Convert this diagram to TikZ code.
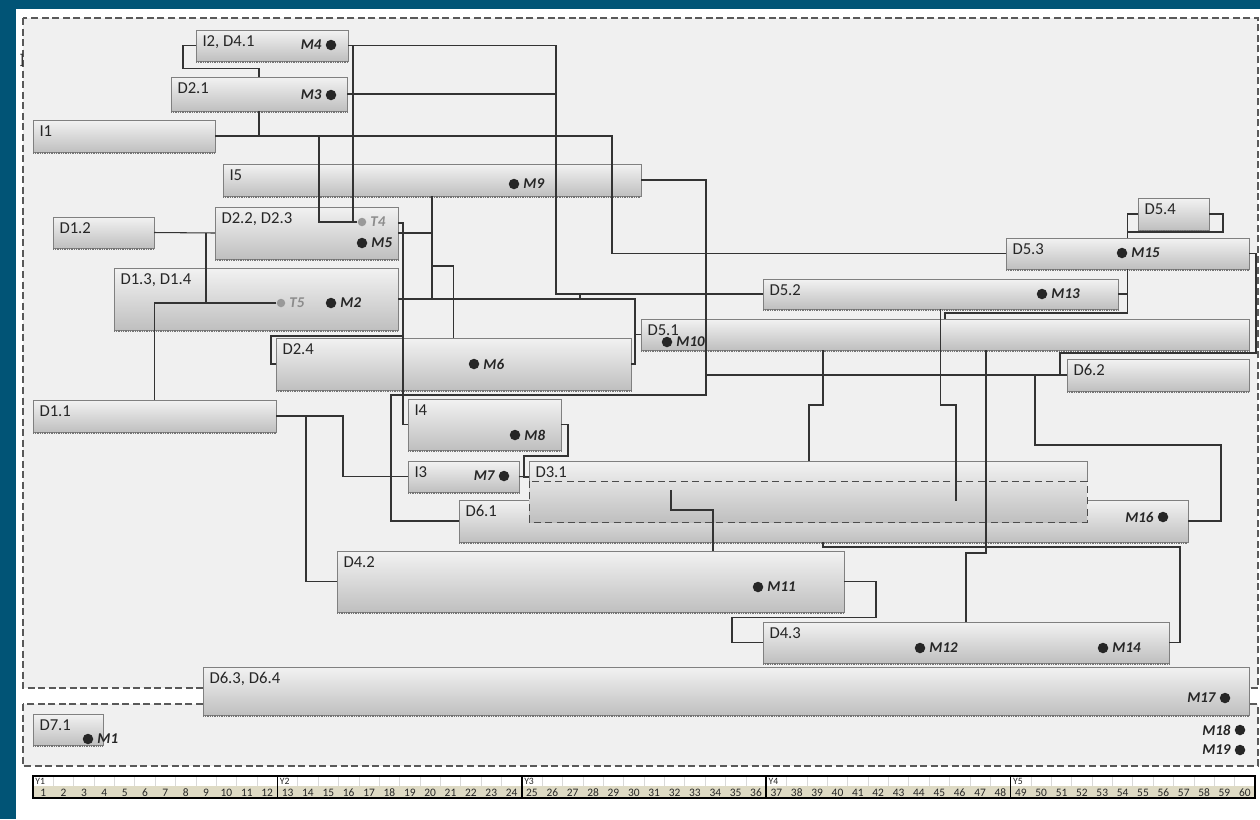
\documentclass[tikz,border=0pt]{standalone}
\usepackage{fontspec}
\setmainfont{Carlito}
\usetikzlibrary{calc}
\definecolor{frameblue}{RGB}{1,84,118}
\definecolor{panelgray}{RGB}{240,240,240}
\definecolor{monthbeige}{RGB}{222,218,196}
\newcommand{\pxu}{0.02cm}
% bar: name, x, y (top left), width, height, label
\newcommand{\wpbar}[6]{%
  \node[wp, minimum width=#4*\pxu, minimum height=#5*\pxu, label={[wplabel]north west:{#6}}] (#1) at (#2,#3) {};
  \draw[hatch] ([yshift=-0.8pt]#1.south west) -- ([yshift=-0.8pt]#1.south east);}
% milestone: [style] name, position, label side, label
\newcommand{\mstone}[5][ms]{\node[#1, label={[mslabel]#4:{#5}}] (#2) at (#3) {};}

\begin{document}
\begin{tikzpicture}[x=0.02cm, y=-0.02cm,
  wp/.style={draw=black!50, top color=black!5, bottom color=black!25, anchor=north west, inner sep=0pt, outer sep=0pt},
  wplabel/.style={anchor=north west, xshift=3.5pt, yshift=-3pt, inner sep=0pt, font=\fontsize{9.5}{11}\selectfont, text=black!85},
  hatch/.style={draw=black!55, line width=1.2pt, dash pattern=on 0.5pt off 0.5pt},
  barline/.style={draw=black!50},
  ms/.style={circle, fill=black!85, minimum size=0.21cm, inner sep=0pt},
  tp/.style={ms, fill=black!40, minimum size=0.17cm},
  mslabel/.style={font=\fontsize{8.5}{9}\selectfont\bfseries\itshape, text=black!85, inner sep=2pt},
  link/.style={draw=black!80, line width=0.6pt},
  panel/.style={draw=black!65, fill=panelgray, dash pattern=on 4pt off 2pt, line width=0.6pt},
  cellline/.style={draw=black!15, line width=0.4pt},
  yearline/.style={draw=black, line width=0.9pt},
  monthnum/.style={font=\fontsize{6.5}{7}\selectfont, inner sep=0pt, text=black!85},
  yearlbl/.style={anchor=north west, font=\fontsize{5.5}{6}\selectfont, inner sep=1.2pt, text=black!85}]
  \useasboundingbox (0,0) rectangle (1260,819);
  \fill[white] (0,0) rectangle (1260,819);
  \fill[frameblue] (0,0) rectangle (1260,9);
  \fill[frameblue] (0,0) rectangle (16,819);
  \draw[panel] (23,18) rectangle (1258,688);
  \draw[panel] (23,704) rectangle (1258,766);
  \node[inner sep=0pt, font=\fontsize{8}{9}\selectfont\bfseries, text=black!80] (brk) at (22,60) {]};

  % work package bars
  \wpbar{i2}{196}{30}{152}{31}{I2, D4.1}
  \wpbar{d21}{171}{77}{176}{34}{D2.1}
  \wpbar{i1}{33}{120}{182}{32}{I1}
  \wpbar{i5}{223}{164}{418}{32}{I5}
  \wpbar{d22}{215}{207}{183}{52}{D2.2, D2.3}
  \wpbar{d12}{53}{217}{101}{31}{D1.2}
  \wpbar{d13}{114}{268}{284}{62}{D1.3, D1.4}
  \wpbar{d24}{276}{338}{355}{52}{D2.4}
  \wpbar{d11}{33}{400}{243}{32}{D1.1}
  \wpbar{i4}{408}{399}{153}{51}{I4}
  \wpbar{i3}{408}{461}{111}{31}{I3}
  \wpbar{d61}{459}{500}{729}{42}{D6.1}
  \node[wp, draw=none, minimum width=558*\pxu, minimum height=61*\pxu, label={[wplabel]north west:{D3.1}}] (d31) at (529,461) {};
  \draw[barline] ($(d31.north west)+(0,20)$) |- (d31.north east) -- ++(0,20);
  \draw[barline, draw=black!70, dash pattern=on 4pt off 2.5pt] ($(d31.north west)+(0,20)$) rectangle (d31.south east);
  \wpbar{d42}{337}{551}{507}{61}{D4.2}
  \wpbar{d43}{763}{622}{406}{41}{D4.3}
  \wpbar{d63}{203}{667}{1046}{48}{D6.3, D6.4}
  \wpbar{d54}{1138}{198}{71}{32}{D5.4}
  \wpbar{d53}{1006}{238}{243}{31}{D5.3}
  \wpbar{d52}{763}{279}{355}{30}{D5.2}
  \wpbar{d51}{641}{319}{608}{31}{D5.1}
  \wpbar{d62}{1067}{359}{182}{32}{D6.2}
  \wpbar{d71}{33}{714}{70}{31}{D7.1}

  % milestones
  \mstone{m4}{331,45}{left}{M4}
  \mstone{m3}{331,95}{left}{M3}
  \mstone{m9}{514,184}{right}{M9}
  \mstone[tp]{t4}{362,222}{right}{\textcolor{black!45}{T4}}
  \mstone{m5}{362,243}{right}{M5}
  \mstone[tp]{t5}{281,303}{right}{\textcolor{black!45}{T5}}
  \mstone{m2}{331,303}{right}{M2}
  \mstone{m6}{474,364}{right}{M6}
  \mstone{m10}{667,342}{right}{M10}
  \mstone{m8}{515,435}{right}{M8}
  \mstone{m7}{504,476}{left}{M7}
  \mstone{m11}{758,587}{right}{M11}
  \mstone{m12}{920,648}{right}{M12}
  \mstone{m14}{1103,648}{right}{M14}
  \mstone{m13}{1042,294}{right}{M13}
  \mstone{m15}{1122,253}{right}{M15}
  \mstone{m16}{1163,517}{left}{M16}
  \mstone{m17}{1225,698}{left}{M17}
  \mstone{m18}{1240,730}{left}{M18}
  \mstone{m19}{1240,750}{left}{M19}
  \mstone{m1}{88,739}{right}{M1}

  % dependencies
  \draw[link] (i2.west) -- ++(-13,0) -- ++(0,23) -| (d21.north);
  \draw[link] (d21.south) -- (d21.south |- i1.east);
  \draw[link] (i1.east) -- ++(397,0) |- (d53.west);
  \draw[link] (t4) -| ($(i1.east)+(104,0)$);
  \draw[link] (i2.east) -- ++(5,0) |- (t4);
  \draw[link] (i2.east) -- ++(208,0) |- (d52.west);
  \draw[link] (d21.east) -- ++(209,0);
  \draw[link] (d13.east) -- ++(237,0) |- (d24.east);
  \draw[link] (d51.west) -- ++(-6,0);
  \draw[link] ($(d13.east)+(182,0)$) -- ++(0,-6);
  \draw[link] (i5.south) -- (i5.south |- d13.east);
  \draw[link] (d22.east) -- (d22.east -| i5.south);
  \draw[link] ($(i5.south)+(0,70)$) -| (d24.north);
  \draw[link] ($(d22.north east)+(0,16)$) -- ++(5,0) |- (i4.west);
  \draw[link] (d24.west) -- ++(-5,0) |- ($(d22.north east)+(5,129)$);
  \coordinate (i5r) at ($(i5.east)+(65,0)$);
  \draw[link] (i5.east) -- (i5r) |- ($(d61.west)+(-68,-126)$) |- (d61.west);
  \draw[link, line width=1.1pt] (i5r) -- (i5r |- d62.west);
  \draw[link] (d62.west) -- (d62.west -| i5r);
  \draw[link] (d53.east) -- ++(7,0) |- ($(d62.west)+(-7,-22)$) |- (d62.west);
  \draw[link] ($(d62.west)+(-32,0)$) |- ($(d61.east)+(33,-76)$) |- (d61.east);
  \draw[link] ($(d51.south west)+(182,0)$) -- ++(0,55) -| ($(d31.north west)+(280,0)$);
  \draw[link] (d52.south) -- ++(0,96) -| ($(d31.north west)+(427,40)$);
  \draw[link] (d52.east) -- ++(10,0);
  \draw[link] (d53.south) -- ++(0,44) -| ($(d51.north west)+(304,0)$);
  \draw[link] (d54.west) -| ($(d53.north)+(0,-6)$) -- (d53.north);
  \draw[link] (d54.east) -- ++(14,0) |- ($(d53.north)+(0,-6)$);
  \draw[link] ($(d51.south west)+(345,0)$) -- ++(0,203) -| ($(d43.north west)+(203,0)$);
  \draw[link] ($(d61.south west)+(364,0)$) -- ++(0,5) -| ($(d43.east)+(11,0)$) -- (d43.east);
  \draw[link] ($(d31.north west)+(142,29)$) -- ++(0,20) -| ($(d42.north west)+(376,0)$);
  \draw[link] (d42.east) -- ++(32,0) |- ($(d43.west)+(-31,-25)$) |- (d43.west);
  \draw[link] (d11.east) -- ++(67,0) |- (i3.west);
  \draw[link] (d42.west) -| ($(d11.east)+(30,0)$);
  \draw[link] (i4.east) -- ++(7,0) |- ($(d31.north west)+(-5,-5)$) |- ($(d31.north west)+(0,16)$);
  \draw[link] (i3.east) -- ($(d31.north west)+(0,16)$);
  \draw[link] (d12.east) -- (d22.west);
  \draw[link] (t5) -| ($(d12.east)+(52,0)$);
  \draw[link] (d11.north) |- (t5);

  % time line
  \fill[white] (33,776) rectangle (1255,786);
  \fill[monthbeige] (33,786) rectangle (1255,798);
  \foreach \m in {1,...,60} {
    \pgfmathsetmacro{\xl}{33+(\m-1)*20.367}
    \draw[cellline] (\xl,776) -- (\xl,786);
    \node[monthnum] (mo\m) at (\xl+10.18,792.5) {\m};
  }
  \foreach \yr in {1,...,5} {
    \pgfmathsetmacro{\xy}{33+(\yr-1)*244.4}
    \draw[yearline] (\xy,776) -- (\xy,798);
    \node[yearlbl] (yr\yr) at (\xy,776) {Y\yr};
  }
  \draw[yearline] (33,776) rectangle (1255,798);
\end{tikzpicture}
\end{document}
